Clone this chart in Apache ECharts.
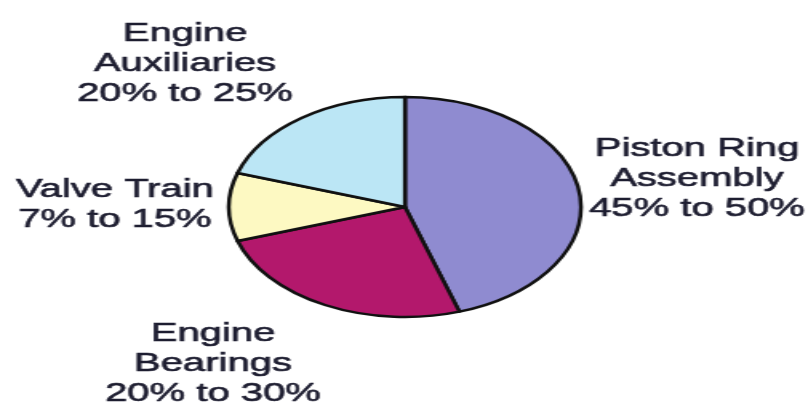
<!DOCTYPE html>
<html>
<head>
<meta charset="utf-8">
<script src="https://cdn.jsdelivr.net/npm/echarts@6/dist/echarts.min.js"></script>
<style>
  html, body { margin: 0; padding: 0; overflow: hidden; background: #fff; }
  /* the source picture is stretched sideways, so the chart is drawn narrow and widened */
  #chart { width: 508px; height: 406px; transform: scaleX(1.6); transform-origin: 0 0; }
</style>
</head>
<body>
<div id="chart"></div>
<script>
const categories = ["Piston Ring\nAssembly", "Engine\nBearings", "Valve Train", "Engine\nAuxiliaries"];
const shareValues = [45, 25, 10, 20];
const rangeLow = [45, 20, 7, 20];
const rangeHigh = [50, 30, 15, 25];

const sliceColors = ["#8f8bd0", "#b3186c", "#fdf9c2", "#bbe6f5"];
const STRETCH = 1.6;
// label block centres in page pixels
const labelSpots = [[697, 179], [213, 364], [115, 205], [185, 64]];

const chart = echarts.init(document.getElementById("chart"));

const option = {
  animation: false,
  backgroundColor: "#ffffff",
  series: [
    {
      type: "pie",
      center: [405 / STRETCH, 207],
      radius: 110,
      startAngle: 90,
      clockwise: true,
      avoidLabelOverlap: false,
      itemStyle: {
        borderColor: "#111",
        borderWidth: 2.5,
      },
      label: {
        show: true,
        position: "outside",
        color: "#1d1d30",
        textBorderColor: "#1d1d30",
        textBorderWidth: 0.6,
        fontFamily: "Liberation Sans, Arial, sans-serif",
        fontSize: 25,
        lineHeight: 30,
        align: "center",
        formatter: (p) => p.name + "\n" + rangeLow[p.dataIndex] + "% to " + rangeHigh[p.dataIndex] + "%",
      },
      labelLine: { show: false },
      labelLayout: (params) => ({
        x: labelSpots[params.dataIndex][0] / STRETCH,
        y: labelSpots[params.dataIndex][1],
        align: "center",
        verticalAlign: "middle",
      }),
      data: categories.map((name, i) => ({
        name: name,
        value: shareValues[i],
        itemStyle: { color: sliceColors[i] },
      })),
    },
  ],
};

chart.setOption(option);
</script>
</body>
</html>
